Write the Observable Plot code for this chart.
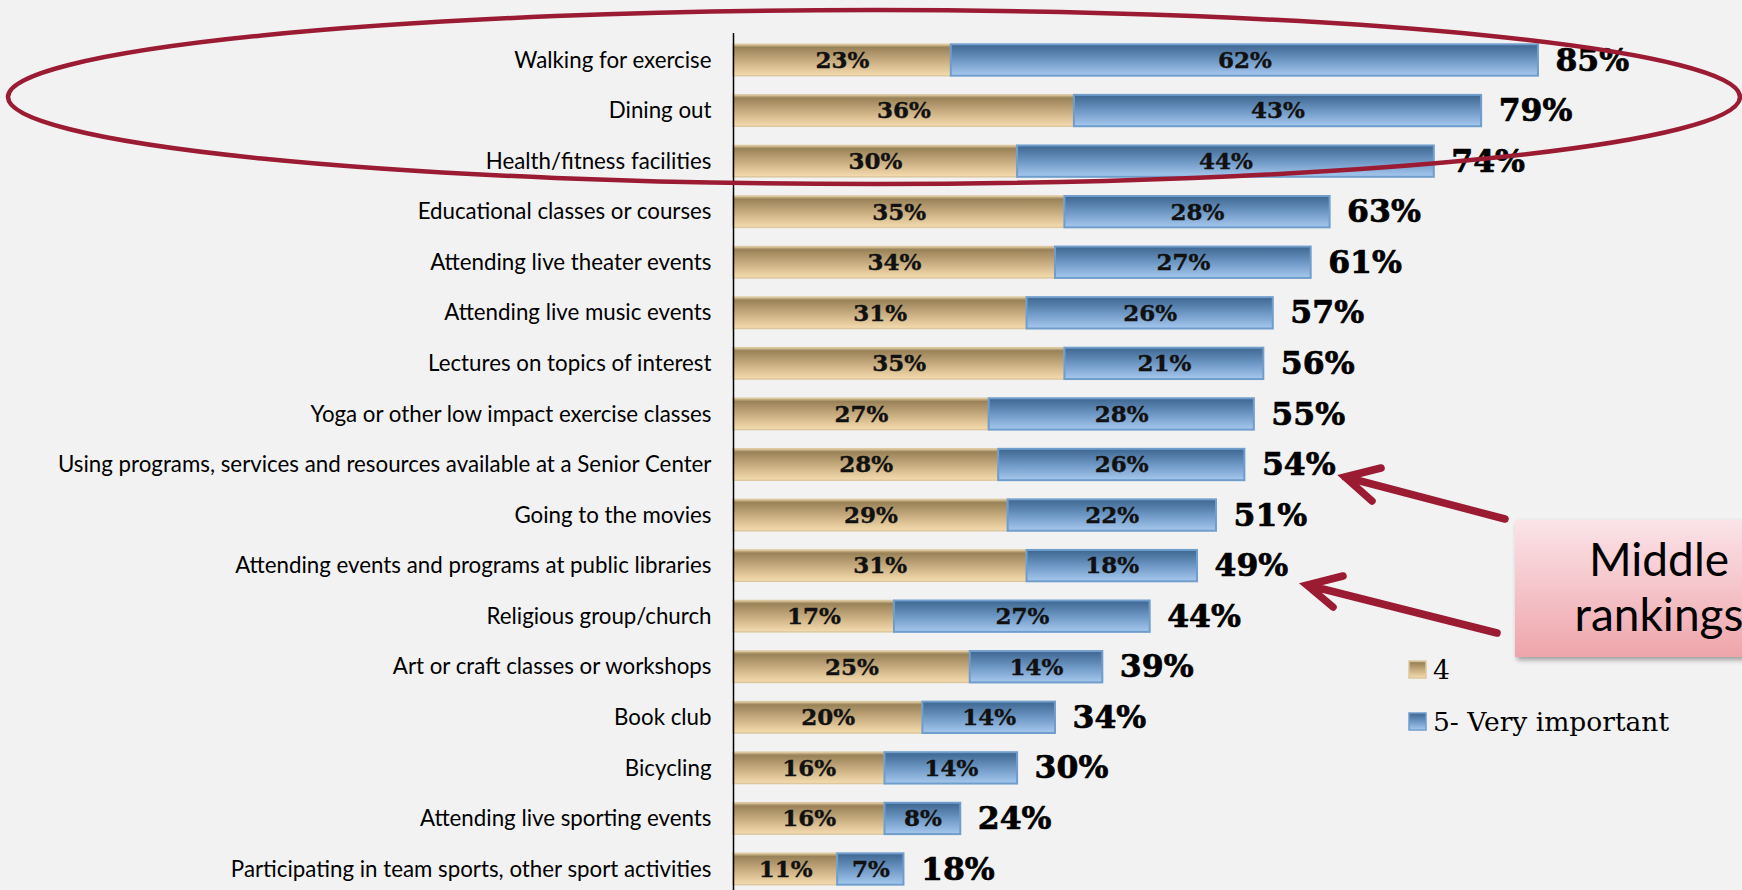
<!DOCTYPE html>
<html>
<head>
<meta charset="utf-8">
<script src="https://cdn.jsdelivr.net/npm/d3@7"></script>
<script src="https://cdn.jsdelivr.net/npm/@observablehq/plot@0.6"></script>
<style>
  html, body { margin: 0; padding: 0; background: #f2f2f2; }
  #wrap { position: relative; width: 1742px; height: 890px; overflow: hidden; }
  #wrap > svg { position: absolute; left: 0; top: 0; }
</style>
</head>
<body>
<div id="wrap"></div>
<script>
// ---- Data ----
const categories = [
  "Walking for exercise",
  "Dining out",
  "Health/fitness facilities",
  "Educational classes or courses",
  "Attending live theater events",
  "Attending live music events",
  "Lectures on topics of interest",
  "Yoga or other low impact exercise classes",
  "Using programs, services and resources available at a Senior Center",
  "Going to the movies",
  "Attending events and programs at public libraries",
  "Religious group/church",
  "Art or craft classes or workshops",
  "Book club",
  "Bicycling",
  "Attending live sporting events",
  "Participating in team sports, other sport activities"
];
const important4 =      [23, 36, 30, 35, 34, 31, 35, 27, 28, 29, 31, 17, 25, 20, 16, 16, 11];
const veryImportant5 =  [62, 43, 44, 28, 27, 26, 21, 28, 26, 22, 18, 27, 14, 14, 14, 8, 7];
const totals =          [85, 79, 74, 63, 61, 57, 56, 55, 54, 51, 49, 44, 39, 34, 30, 24, 18];
const seriesNames = ["4", "5- Very important"];
const annotationText = ["Middle", "rankings"];

// ---- Derived tables ----
const rows4 = categories.map((c, i) => ({cat: c, x1: 0, x2: important4[i], v: important4[i]}));
const rows5 = categories.map((c, i) => ({cat: c, x1: important4[i], x2: important4[i] + veryImportant5[i], v: veryImportant5[i]}));
const totalRows = categories.map((c, i) => ({cat: c, t: totals[i]}));

const valueFont = "DejaVu Serif";
const chart = Plot.plot({
  width: 1742,
  height: 890,
  marginLeft: 733,
  marginRight: 62,
  marginTop: 33,
  marginBottom: -6,
  style: {background: "transparent", fontFamily: "Lato", fontSize: "22.3px", color: "#000"},
  x: {domain: [0, 100], axis: null},
  y: {domain: categories, round: false, paddingInner: 0.38, paddingOuter: 0.224, tickSize: 0, tickPadding: 22, label: null},
  marks: [
    Plot.barX(rows4, {y: "cat", x1: "x1", x2: "x2", fill: "url(#gTan)", stroke: "#dcc79e", strokeWidth: 1.5}),
    Plot.barX(rows5, {y: "cat", x1: "x1", x2: "x2", fill: "url(#gBlue)", stroke: "#6f9dcc", strokeWidth: 2}),
    Plot.text(rows4, {y: "cat", x: d => (d.x1 + d.x2) / 2, text: d => d.v + "%", fontFamily: valueFont, fontWeight: "bold", fontSize: 23, fill: "#111", stroke: "#111", strokeWidth: 0.4}),
    Plot.text(rows5, {y: "cat", x: d => (d.x1 + d.x2) / 2, text: d => d.v + "%", fontFamily: valueFont, fontWeight: "bold", fontSize: 23, fill: "#111", stroke: "#111", strokeWidth: 0.4}),
    Plot.text(totalRows, {y: "cat", x: "t", text: d => d.t + "%", dx: 17, textAnchor: "start", fontFamily: valueFont, fontWeight: "bold", fontSize: 31.5, fill: "#000", stroke: "#000", strokeWidth: 0.7}),
    Plot.ruleX([0], {stroke: "#000", strokeWidth: 1.5})
  ]
});

// gradients
const defs = d3.select(chart).insert("defs", ":first-child");
const gT = defs.append("linearGradient").attr("id", "gTan").attr("x1", 0).attr("y1", 0).attr("x2", 0).attr("y2", 1);
gT.append("stop").attr("offset", "0").attr("stop-color", "#d9c59c");
gT.append("stop").attr("offset", "0.1").attr("stop-color", "#9a8258");
gT.append("stop").attr("offset", "0.55").attr("stop-color", "#caaf82");
gT.append("stop").attr("offset", "1").attr("stop-color", "#f5dcae");
const gB = defs.append("linearGradient").attr("id", "gBlue").attr("x1", 0).attr("y1", 0).attr("x2", 0).attr("y2", 1);
gB.append("stop").attr("offset", "0").attr("stop-color", "#3d6690");
gB.append("stop").attr("offset", "0.5").attr("stop-color", "#6d97c4");
gB.append("stop").attr("offset", "1").attr("stop-color", "#a6c8ee");
const gP = defs.append("linearGradient").attr("id", "gPink").attr("x1", 0).attr("y1", 0).attr("x2", 0).attr("y2", 1);
gP.append("stop").attr("offset", "0").attr("stop-color", "#fbe4e8");
gP.append("stop").attr("offset", "1").attr("stop-color", "#eea5ab");
const f = defs.append("filter").attr("id", "shadow").attr("x", "-10%").attr("y", "-10%").attr("width", "130%").attr("height", "140%");
f.append("feDropShadow").attr("dx", 2).attr("dy", 3).attr("stdDeviation", 2.5).attr("flood-color", "#000").attr("flood-opacity", 0.35);

document.getElementById("wrap").appendChild(chart);

// ---- Annotation overlay: legend, ellipse, arrows, callout box ----
const ov = d3.select("#wrap").append("svg").attr("width", 1742).attr("height", 890)
  .style("pointer-events", "none");
const red = "#9b1b33";

// legend
const lg = ov.append("g").attr("font-family", "DejaVu Serif").attr("font-size", 26.5);
[["url(#gTan)", "#dcc79e", 661, seriesNames[0]], ["url(#gBlue)", "#6f9dcc", 713, seriesNames[1]]].forEach(([fill, stroke, y, label]) => {
  lg.append("rect").attr("x", 1409).attr("y", y).attr("width", 17).attr("height", 17)
    .attr("fill", fill).attr("stroke", stroke).attr("stroke-width", 1.5);
  lg.append("text").attr("x", 1433).attr("y", y + 18).text(label);
});

// ellipse
ov.append("ellipse").attr("cx", 874).attr("cy", 97).attr("rx", 866).attr("ry", 87)
  .attr("fill", "none").attr("stroke", red).attr("stroke-width", 4.5);

// arrows
const arrows = [
  {tail: [1505, 519], tip: [1345, 477], w1: [1381, 468], w2: [1372, 501]},
  {tail: [1497, 633], tip: [1307, 585], w1: [1343, 576], w2: [1333, 607]}
];
arrows.forEach(a => {
  ov.append("path")
    .attr("d", `M${a.tail}L${a.tip}M${a.w1}L${a.tip}L${a.w2}`)
    .attr("fill", "none").attr("stroke", red).attr("stroke-width", 7.5)
    .attr("stroke-linecap", "round").attr("stroke-linejoin", "miter");
});

// callout box
ov.append("rect").attr("x", 1515).attr("y", 520).attr("width", 240).attr("height", 137)
  .attr("fill", "url(#gPink)").attr("filter", "url(#shadow)");
const tb = ov.append("text").attr("font-family", "Lato").attr("font-size", 46)
  .attr("text-anchor", "middle").attr("fill", "#000");
tb.append("tspan").attr("x", 1659).attr("y", 576).text(annotationText[0]);
tb.append("tspan").attr("x", 1659).attr("y", 631).text(annotationText[1]);

// gradients live in the chart svg; copy defs to overlay too
ov.node().insertBefore(defs.node().cloneNode(true), ov.node().firstChild);
ov.select("defs").selectAll("[id]").each(function() { this.id = this.id + "2"; });
ov.selectAll("rect").each(function() {
  const fl = this.getAttribute("fill");
  if (fl && fl.startsWith("url(#")) this.setAttribute("fill", fl.replace(")", "2)"));
  const ft = this.getAttribute("filter");
  if (ft) this.setAttribute("filter", ft.replace(")", "2)"));
});
</script>
</body>
</html>
